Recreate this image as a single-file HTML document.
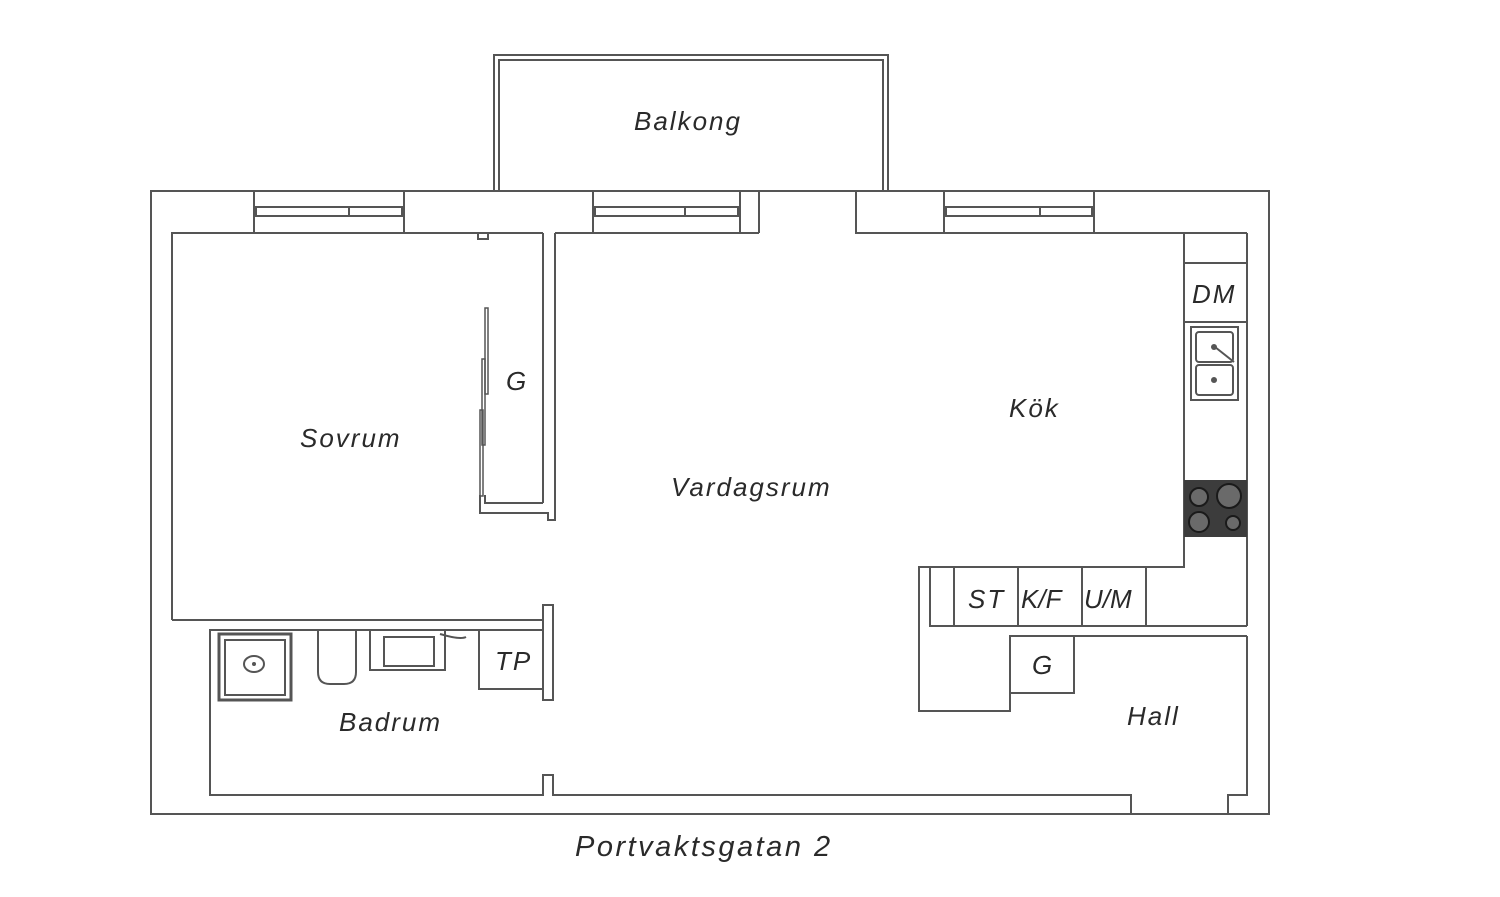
<!DOCTYPE html>
<html><head><meta charset="utf-8"><style>
body{margin:0;background:#fff;}
svg{display:block}
text{font-family:"Liberation Sans",sans-serif;font-style:italic;fill:#2a2a2a;letter-spacing:2px;}
</style></head><body>
<svg width="1500" height="897" viewBox="0 0 1500 897" xmlns="http://www.w3.org/2000/svg">
<g fill="none" stroke="#555" stroke-width="2">
<rect x="151" y="191" width="1118" height="623"/>
<rect x="494" y="55" width="394" height="136"/>
<polyline points="499,191 499,60 883,60 883,191"/>
<polyline points="172,620 172,233 543,233"/>
<line x1="555" y1="233" x2="759" y2="233"/>
<polyline points="759,191 759,233"/>
<polyline points="856,191 856,233 1247,233"/>
<g>
<line x1="254" y1="191" x2="254" y2="233"/><line x1="404" y1="191" x2="404" y2="233"/>
<rect x="256" y="207" width="146" height="9"/><line x1="349" y1="207" x2="349" y2="216"/>
<line x1="593" y1="191" x2="593" y2="233"/><line x1="740" y1="191" x2="740" y2="233"/>
<rect x="595" y="207" width="143" height="9"/><line x1="685" y1="207" x2="685" y2="216"/>
<line x1="944" y1="191" x2="944" y2="233"/><line x1="1094" y1="191" x2="1094" y2="233"/>
<rect x="946" y="207" width="146" height="9"/><line x1="1040" y1="207" x2="1040" y2="216"/>
</g>
<polyline points="478,233 478,239 488,239 488,233"/>
<line x1="543" y1="233" x2="543" y2="503"/>
<polyline points="555,233 555,520 548,520 548,513 480,513 480,495"/>
<polyline points="485,495 485,503 543,503"/>
<rect x="485" y="308" width="3" height="86" stroke-width="1.5"/>
<rect x="482" y="359" width="3" height="86" stroke-width="1.5"/>
<rect x="480" y="410" width="3" height="86" stroke-width="1.5"/>
<line x1="172" y1="620" x2="543" y2="620"/>
<rect x="543" y="605" width="10" height="95"/>
<polyline points="543,630 210,630 210,795 543,795 543,775 553,775 553,795 1131,795 1131,814"/>
<polyline points="1228,814 1228,795 1247,795 1247,636"/>
<line x1="1247" y1="233" x2="1247" y2="626"/>
<rect x="479" y="630" width="64" height="59"/>
<rect x="219" y="634" width="72" height="66" stroke-width="3"/>
<rect x="225" y="640" width="60" height="55"/>
<ellipse cx="254" cy="664" rx="10" ry="8"/>
<path d="M318,630 V672 Q318,684 330,684 H344 Q356,684 356,672 V630"/>
<rect x="370" y="630" width="75" height="40"/>
<rect x="384" y="637" width="50" height="29"/>
<path d="M440,634 Q460,640 466,637"/>
<polyline points="1184,233 1184,567 919,567 919,711 1010,711 1010,636 1247,636"/>
<line x1="1184" y1="263" x2="1247" y2="263"/>
<line x1="1184" y1="322" x2="1247" y2="322"/>
<rect x="1191" y="327" width="47" height="73"/>
<rect x="1196" y="332" width="37" height="30" rx="3"/>
<rect x="1196" y="365" width="37" height="30" rx="3"/>
<line x1="1215" y1="347" x2="1234" y2="362"/>
<polyline points="930,567 930,626 1247,626"/>
<line x1="954" y1="567" x2="954" y2="626"/>
<line x1="1018" y1="567" x2="1018" y2="626"/>
<line x1="1082" y1="567" x2="1082" y2="626"/>
<line x1="1146" y1="567" x2="1146" y2="626"/>
<polyline points="1010,693 1074,693 1074,636"/>
</g>
<g fill="#555">
<circle cx="1214" cy="347" r="3"/><circle cx="1214" cy="380" r="3"/>
<circle cx="254" cy="664" r="2"/>
</g>
<rect x="1184" y="480" width="63" height="57" fill="#3c3c3c"/>
<g fill="#6a6a6a" stroke="#1a1a1a" stroke-width="2">
<circle cx="1199" cy="497" r="9"/><circle cx="1229" cy="496" r="12"/>
<circle cx="1199" cy="522" r="10"/><circle cx="1233" cy="523" r="7"/>
</g>
<g font-size="26">
<text x="634" y="130">Balkong</text>
<text x="300" y="447">Sovrum</text>
<text x="506" y="390">G</text>
<text x="671" y="496">Vardagsrum</text>
<text x="1009" y="417">Kök</text>
<text x="1192" y="303">DM</text>
<text x="968" y="608">ST</text>
<text x="1021" y="608" style="letter-spacing:0">K/F</text>
<text x="1084" y="608" style="letter-spacing:0">U/M</text>
<text x="1032" y="674">G</text>
<text x="1127" y="725">Hall</text>
<text x="495" y="670">TP</text>
<text x="339" y="731">Badrum</text>
<text x="575" y="856" font-size="29" style="letter-spacing:2.5px">Portvaktsgatan 2</text>
</g>
</svg>
</body></html>
